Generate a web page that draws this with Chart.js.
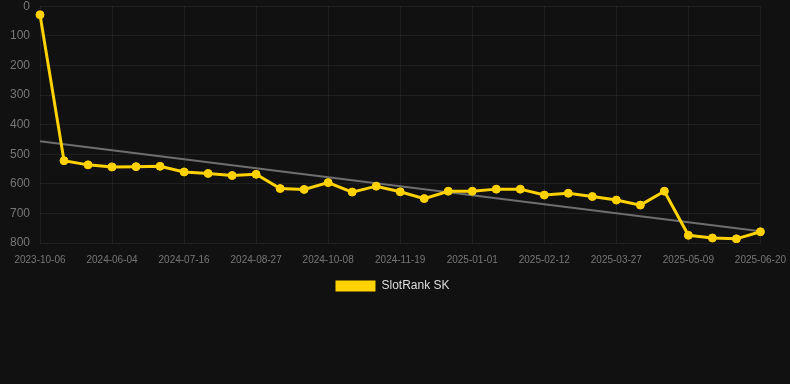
<!DOCTYPE html>
<html>
<head>
<meta charset="utf-8">
<script src="https://cdn.jsdelivr.net/npm/chart.js@4/dist/chart.umd.min.js"></script>
<style>
  html, body { margin: 0; padding: 0; background: #111111; overflow: hidden; }
  #wrap { width: 809px; height: 313px; position: relative; margin-left: -12px; margin-top: -11px; }
</style>
</head>
<body>
<div id="wrap"><canvas id="rankChart"></canvas></div>
<script>
// data
const dates = [
  '2023-10-06', '2024-05-07', '2024-05-21', '2024-06-04', '2024-06-18', '2024-07-02',
  '2024-07-16', '2024-07-30', '2024-08-13', '2024-08-27', '2024-09-10', '2024-09-24',
  '2024-10-08', '2024-10-22', '2024-11-05', '2024-11-19', '2024-12-03', '2024-12-17',
  '2025-01-01', '2025-01-15', '2025-01-29', '2025-02-12', '2025-02-26', '2025-03-12',
  '2025-03-27', '2025-04-10', '2025-04-24', '2025-05-09', '2025-05-23', '2025-06-06',
  '2025-06-20'
];
const rankSK = [
  29, 522, 536, 543, 542, 541, 560, 565, 572, 568, 616, 619, 596, 628, 608, 627,
  650, 625, 625, 618, 618, 638, 632, 643, 655, 672, 625, 774, 783, 786, 762
];
// trend line: only the two end values, joined across the gaps
const trendSK = dates.map(() => null);
trendSK[0] = 456;
trendSK[dates.length - 1] = 760;

const yTicks = [0, 100, 200, 300, 400, 500, 600, 700, 800];

const ctx = document.getElementById('rankChart').getContext('2d');
new Chart(ctx, {
  type: 'line',
  data: {
    labels: dates,
    datasets: [
      {
        label: 'SlotRank SK',
        data: rankSK,
        borderColor: '#ffd200',
        backgroundColor: '#ffd200',
        borderWidth: 3,
        pointRadius: 4,
        pointBorderWidth: 1,
        pointHoverRadius: 5,
        pointBackgroundColor: '#ffd200',
        pointBorderColor: '#ffd200',
        tension: 0,
        order: 1
      },
      {
        label: 'trend',
        data: trendSK,
        borderColor: '#6e6e6e',
        borderWidth: 2,
        pointRadius: 0,
        spanGaps: true,
        tension: 0,
        order: 2
      }
    ]
  },
  options: {
    responsive: true,
    maintainAspectRatio: false,
    animation: false,
    scales: {
      x: {
        afterFit: axis => { axis.height -= 7; },
        grid: { color: 'rgba(255,255,255,0.06)', drawTicks: false },
        border: { display: false },
        ticks: {
          color: '#777',
          font: { size: 10, family: 'Liberation Sans, Arial, sans-serif' },
          maxRotation: 0,
          autoSkip: false,
          padding: 11,
          callback: function (val, i) { return i % 3 === 0 ? dates[i] : null; }
        }
      },
      y: {
        reverse: true,
        min: 0,
        max: 800,
        afterBuildTicks: axis => { axis.ticks = yTicks.map(v => ({ value: v })); },
        afterFit: axis => { axis.width = 52; },
        grid: { color: 'rgba(255,255,255,0.06)', drawTicks: false },
        border: { display: false },
        ticks: {
          color: '#777',
          font: { size: 12, family: 'Liberation Sans, Arial, sans-serif' },
          padding: 10
        }
      }
    },
    plugins: {
      legend: {
        position: 'bottom',
        labels: {
          color: '#dddddd',
          boxWidth: 40,
          boxHeight: 11,
          font: { size: 12, family: 'Liberation Sans, Arial, sans-serif' },
          generateLabels: chart => Chart.defaults.plugins.legend.labels.generateLabels(chart)
            .filter(item => item.text !== 'trend')
            .map(item => Object.assign(item, { lineWidth: 0 }))
        }
      },
      tooltip: { enabled: false }
    }
  }
});
</script>
</body>
</html>
